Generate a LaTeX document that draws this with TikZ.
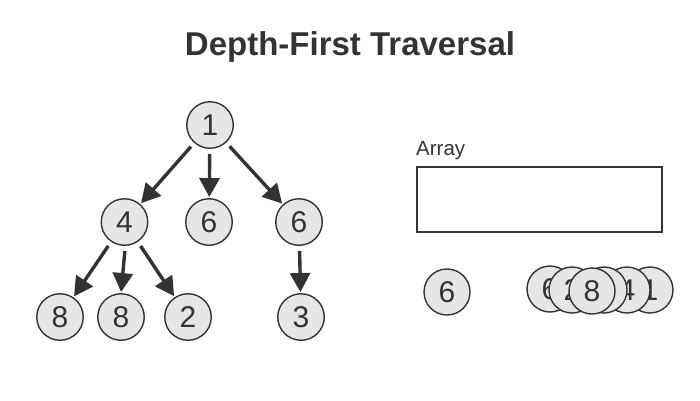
\documentclass[tikz,border=0pt]{standalone}
\usepackage{fontspec}
\setmainfont{Liberation Sans}
\usetikzlibrary{arrows.meta}
\definecolor{ink}{HTML}{333333}
\definecolor{nodefill}{HTML}{E6E6E6}
\tikzset{
  tnode/.style={circle, draw=ink, fill=nodefill, line width=1.4pt, minimum size=46.5pt, inner sep=0pt, text=ink, font=\fontsize{30}{30}\selectfont},
  anode/.style={tnode, minimum size=46pt},
  tedge/.style={draw=ink, line width=3.4pt, -{Triangle[length=19pt,width=20pt]}, shorten <=5pt, shorten >=1pt},
}
\begin{document}
\begin{tikzpicture}[x=1pt,y=-1pt]
\useasboundingbox (0,0) rectangle (700,400);
\fill[white] (0,0) rectangle (700,400);
\node[text=ink, font=\bfseries\fontsize{33}{33}\selectfont] (title) at (350,47) {Depth-First Traversal};

% tree
\node[tnode] (n1) at (210,125) {1};
\node[tnode] (n4) at (124.5,222) {4};
\node[tnode] (n6a) at (209,222) {6};
\node[tnode] (n6b) at (299,222) {6};
\node[tnode] (n8a) at (60,317) {8};
\node[tnode] (n8b) at (121,317) {8};
\node[tnode] (n2) at (188,317) {2};
\node[tnode] (n3) at (301,317) {3};

\draw[tedge] (n1) -- (n4);
\draw[tedge] (n1) -- (n6a);
\draw[tedge] (n1) -- (n6b);
\draw[tedge] (n4) -- (n8a);
\draw[tedge] (n4.-88) -- (n8b.north);
\draw[tedge] (n4) -- (n2);
\draw[tedge] (n6b) -- (n3);

% array
\node[anchor=base west, text=ink, font=\fontsize{20.5}{20.5}\selectfont, inner sep=0pt] (arrlabel) at (416,155) {Array};
\node[draw=ink, fill=white, line width=1.4pt, minimum width=245pt, minimum height=65pt, inner sep=0pt] (arr) at (539.5,199.5) {};

\node[anode] (r6) at (447,292) {6};

\node[anode] (s1) at (650,290) {1};
\node[anode] (s4) at (627,290) {4};
\node[anode] (sh) at (604,290) {};
\node[anode] (s6) at (550,289) {6};
\node[anode] (s2) at (572,290) {2};
\node[anode] (s8) at (592,291) {8};
\end{tikzpicture}
\end{document}
